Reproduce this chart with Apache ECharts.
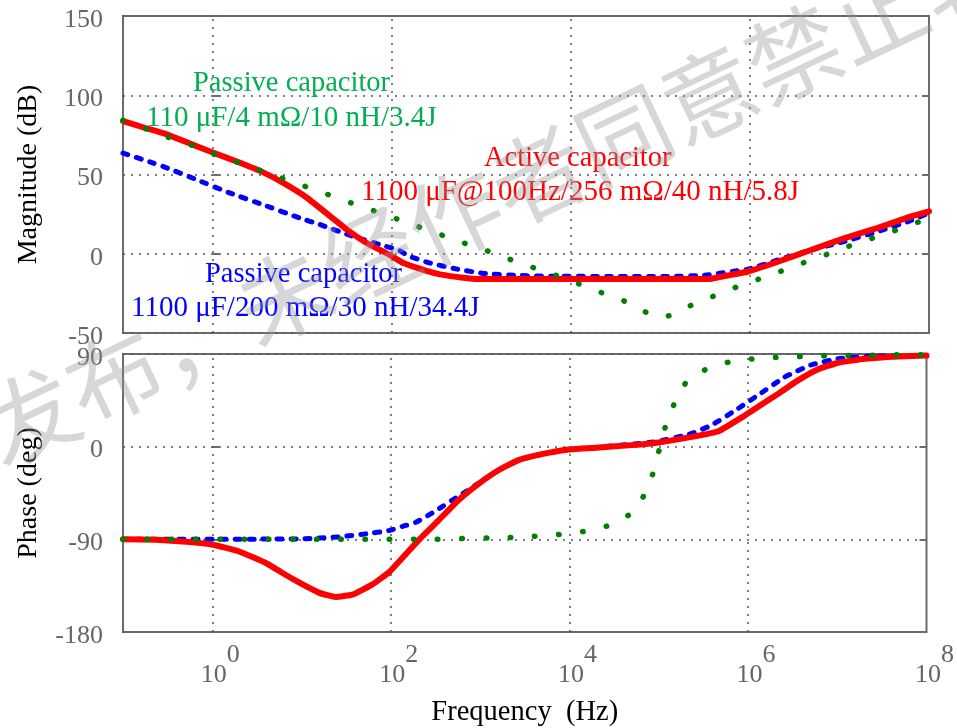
<!DOCTYPE html>
<html>
<head>
<meta charset="utf-8">
<script src="https://cdn.jsdelivr.net/npm/echarts@6/dist/echarts.min.js"></script>
<style>
  html, body { margin: 0; padding: 0; background: #fff; }
  #main { width: 957px; height: 728px; }
</style>
</head>
<body>
<div id="main"></div>
<script>
// x = log10(frequency / Hz)
var logFreqTicks = [0, 2, 4, 6, 8];
var magTicks = [-50, 0, 50, 100, 150];
var phaseTicks = [-180, -90, 0, 90];

// magnitude (dB)
var magPassive1100 = [
  [-1.00, 63.5], [-0.66, 57.2], [-0.52, 54.4], [-0.18, 46.8], [0.19, 38.4], [0.56, 31.0],
  [0.97, 22.6], [1.20, 18.4], [1.57, 10.9], [1.94, 4.6], [2.07, 2.5], [2.20, -1.7],
  [2.43, -5.9], [2.73, -9.7], [3.02, -12.4], [3.40, -13.7], [3.84, -14.2], [4.50, -14.3],
  [5.11, -14.3], [5.50, -13.5], [5.98, -9.7], [6.32, -3.8], [6.69, 2.5], [7.06, 7.8],
  [7.43, 14.0], [7.80, 21.0], [8.00, 25.8]
];
var magActive = [
  [-1.00, 83.7], [-0.76, 79.5], [-0.52, 75.5], [-0.25, 69.5], [0.01, 63.7], [0.27, 58.2],
  [0.56, 51.5], [0.79, 44.7], [1.05, 35.5], [1.35, 22.0], [1.50, 15.2], [1.72, 6.8],
  [1.98, -0.8], [2.13, -5.9], [2.37, -10.5], [2.54, -13.0], [2.80, -15.2], [2.97, -16.0],
  [5.53, -16.0], [5.79, -13.3], [5.98, -11.2], [6.32, -4.9], [6.69, 2.5], [7.06, 9.9],
  [7.43, 16.3], [7.80, 23.6], [8.00, 26.8]
];
var magPassive110 = [
  [-1.00, 84.2], [-0.74, 78.7], [-0.49, 73.4], [-0.23, 68.4], [0.03, 62.7], [0.28, 57.6],
  [0.54, 52.5], [0.80, 47.3], [1.06, 42.0], [1.31, 36.9], [1.57, 31.6], [1.83, 26.6],
  [2.09, 21.3], [2.35, 16.0], [2.60, 11.0], [2.86, 5.7], [3.12, 0.8], [3.37, -4.6],
  [3.63, -9.7], [3.89, -14.7], [4.14, -20.1], [4.40, -25.8], [4.65, -31.0], [4.89, -38.4],
  [5.02, -40.0], [5.14, -38.4], [5.39, -31.2], [5.64, -25.8], [5.89, -20.1], [6.15, -15.0],
  [6.40, -9.9], [6.65, -4.6], [6.92, 0.8], [7.17, 6.1], [7.43, 11.0], [7.69, 16.0],
  [7.94, 21.3]
];

// phase (deg)
var phasePassive1100 = [
  [-1.00, -90], [0.50, -89.8], [1.00, -89.5], [1.20, -88.8], [1.46, -87.3], [1.72, -84.7],
  [1.98, -81.5], [2.13, -77.5], [2.28, -73.5], [2.46, -64.6], [2.58, -58.0], [2.69, -51.8],
  [2.84, -43.7], [3.21, -22.7], [3.43, -13.1], [3.69, -7.3], [3.99, -2.7], [4.33, -0.5],
  [4.70, 2.4], [5.00, 5.3], [5.37, 12.8], [5.59, 20.8], [5.89, 37.0], [6.11, 49.8],
  [6.41, 67.5], [6.71, 79.5], [7.01, 85.4], [7.38, 87.9], [8.00, 88.5]
];
var phaseActive = [
  [-1.00, -89.8], [-0.63, -90.5], [-0.29, -92.4], [0.01, -95.3], [0.30, -101.8], [0.60, -113],
  [0.90, -128.5], [1.20, -142], [1.38, -146], [1.57, -143.7], [1.79, -134], [1.98, -122],
  [2.32, -90], [2.54, -71.1], [2.76, -51.8], [2.99, -35.6], [3.21, -22.7], [3.43, -13.1],
  [3.69, -7.3], [3.99, -2.7], [4.33, -0.8], [4.70, 1.5], [5.00, 4.1], [5.37, 9.5],
  [5.67, 15], [5.97, 30.5], [6.11, 38.5], [6.34, 51.5], [6.56, 64.4], [6.78, 75],
  [7.01, 81.5], [7.31, 85.4], [7.68, 87.6], [8.00, 88.5]
];
var phasePassive110 = [
  [-1.00, -90], [1.00, -90], [2.50, -89.9], [3.10, -88.6], [3.37, -88.2], [3.64, -86.9],
  [3.92, -85.0], [4.18, -82.1], [4.44, -76.6], [4.68, -65.6], [4.84, -46.9], [4.94, -25.0],
  [5.01, -1.7], [5.08, 20.8], [5.18, 42.8], [5.31, 62.7], [5.54, 75.7], [5.80, 82.5],
  [6.07, 85.4], [6.34, 86.9], [6.61, 87.6], [6.89, 88.3], [7.16, 88.5], [7.43, 88.8],
  [7.70, 89.2], [7.98, 89.2]
];

var chart = echarts.init(document.getElementById('main'));

var serif = '"Liberation Serif", "Times New Roman", serif';
var frame = '#6b6b6b';
var gridDots = { color: '#555', width: 1.5, type: [2, 6] };

function xAxisCfg(gi, showLabel) {
  return {
    type: 'value', gridIndex: gi, min: -1, max: 8, interval: 1,
    axisLine: { show: false }, axisTick: { show: false }, splitLine: { show: false },
    name: showLabel ? 'Frequency  (Hz)' : '',
    nameLocation: 'middle', nameGap: 66,
    nameTextStyle: { color: '#000', fontFamily: serif, fontSize: 28.5 },
    axisLabel: {
      show: showLabel, margin: 10, showMinLabel: true, showMaxLabel: true,
      formatter: function (v) {
        return logFreqTicks.indexOf(v) >= 0 ? '{b|10}{s|' + v + '}' : '';
      },
      rich: {
        b: { fontFamily: serif, fontSize: 26, color: '#666', padding: [0, 0, 0, 16], verticalAlign: 'bottom' },
        s: { fontFamily: serif, fontSize: 26, color: '#666', padding: [0, 0, 20, 0], verticalAlign: 'bottom' }
      }
    }
  };
}

function yAxisCfg(gi, min, max, interval, name) {
  return {
    type: 'value', gridIndex: gi, min: min, max: max, interval: interval,
    name: name, nameLocation: 'middle', nameGap: 80,
    nameTextStyle: { color: '#000', fontFamily: serif, fontSize: 28 },
    axisLine: { show: false },
    axisTick: { show: true, inside: true, length: 7, lineStyle: { color: frame, width: 2 } },
    axisLabel: {
      margin: 20,
      formatter: function (v) { return '{t|' + v + '}'; },
      rich: { t: { color: '#666', fontFamily: serif, fontSize: 26, padding: [8, 0, 0, 0] } }
    },
    splitLine: { show: true, lineStyle: gridDots }
  };
}

function yAxisRight(gi, min, max, interval) {
  return {
    type: 'value', gridIndex: gi, min: min, max: max, interval: interval, position: 'right',
    axisLine: { show: false }, axisLabel: { show: false }, splitLine: { show: false },
    axisTick: { show: true, inside: true, length: 7, lineStyle: { color: frame, width: 2 } }
  };
}

function curve(data, xi, yi, color, type, width, z) {
  return {
    type: 'line', data: data, xAxisIndex: xi, yAxisIndex: yi, z: z,
    showSymbol: false, smooth: 0.12, silent: true,
    lineStyle: { color: color, width: width, type: type, cap: 'round', join: 'round' }
  };
}

function gridLines(xi, yi) {
  return {
    type: 'line', data: [], xAxisIndex: xi, yAxisIndex: yi, z: 1, silent: true,
    markLine: {
      silent: true, symbol: ['none', 'none'], label: { show: false },
      lineStyle: gridDots, animation: false,
      data: logFreqTicks.filter(function (v) { return v > -1 && v < 8; })
        .map(function (v) { return { xAxis: v }; })
    }
  };
}

var dashBlue = [5, 9];
var dotGreen = [0.5, 23.7];

var option = {
  animation: false,
  grid: [
    { left: 123, top: 16, width: 806, height: 317, show: true, borderColor: frame, borderWidth: 2 },
    { left: 123, top: 354, width: 806, height: 279, show: true, borderColor: frame, borderWidth: 2 }
  ],
  xAxis: [xAxisCfg(0, false), xAxisCfg(1, true)],
  yAxis: [
    yAxisCfg(0, magTicks[0], magTicks[magTicks.length - 1], 50, 'Magnitude (dB)'),
    yAxisCfg(1, phaseTicks[0], phaseTicks[phaseTicks.length - 1], 90, 'Phase (deg)'),
    yAxisRight(0, magTicks[0], magTicks[magTicks.length - 1], 50),
    yAxisRight(1, phaseTicks[0], phaseTicks[phaseTicks.length - 1], 90)
  ],
  series: [
    gridLines(0, 0),
    gridLines(1, 1),
    curve(magPassive1100, 0, 0, '#0000ff', dashBlue, 5, 3),
    curve(magActive, 0, 0, '#ff0000', 'solid', 6, 4),
    curve(magPassive110, 0, 0, '#008000', dotGreen, 5.5, 5),
    curve(phasePassive1100, 1, 1, '#0000ff', dashBlue, 5, 3),
    curve(phaseActive, 1, 1, '#ff0000', 'solid', 6, 4),
    curve(phasePassive110, 1, 1, '#008000', dotGreen, 5.5, 5)
  ],
  graphic: [
    { type: 'text', left: 193, top: 69, silent: true, z: 10,
      style: { text: 'Passive capacitor', fill: '#00b050', font: '28.5px ' + serif } },
    { type: 'text', left: 146, top: 104, silent: true, z: 10,
      style: { text: '110 μF/4 mΩ/10 nH/3.4J', fill: '#00b050', font: '29px ' + serif } },
    { type: 'text', left: 484, top: 144, silent: true, z: 10,
      style: { text: 'Active capacitor', fill: '#ff0000', font: '28.5px ' + serif } },
    { type: 'text', left: 361, top: 178, silent: true, z: 10,
      style: { text: '1100 μF@100Hz/256 mΩ/40 nH/5.8J', fill: '#ff0000', font: '29px ' + serif } },
    { type: 'text', left: 205, top: 260, silent: true, z: 10,
      style: { text: 'Passive capacitor', fill: '#0000ff', font: '28.5px ' + serif } },
    { type: 'text', left: 131, top: 294, silent: true, z: 10,
      style: { text: '1100 μF/200 mΩ/30 nH/34.4J', fill: '#0000ff', font: '29px ' + serif } },
    { type: 'text', x: 539, y: 175, rotation: 25.4 * Math.PI / 180, silent: true, z: 20,
      style: { text: '发布，未经作者同意禁止转载', fill: 'rgba(150,150,150,0.38)',
               font: '94px "Noto Sans CJK SC"', align: 'center', verticalAlign: 'middle' } }
  ]
};

chart.setOption(option);
</script>
</body>
</html>
